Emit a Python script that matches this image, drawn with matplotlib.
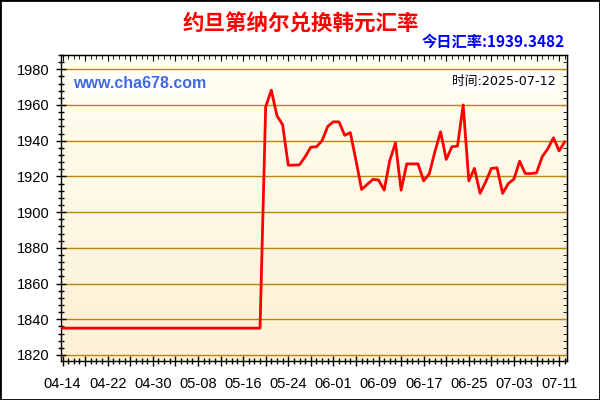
import matplotlib
matplotlib.use("Agg")
import matplotlib.pyplot as plt
import matplotlib.dates as mdates
from matplotlib.ticker import MultipleLocator, FuncFormatter
from matplotlib.patches import Rectangle
import numpy as np
import pandas as pd

# ---- data ----
title = "约旦第纳尔兑换韩元汇率"
today_label = "今日汇率:1939.3482"
time_label = "时间:2025-07-12"
watermark = "www.cha678.com"
start_date = "2025-04-14"
end_date = "2025-07-12"
rates = [
    1835, 1835, 1835, 1835, 1835, 1835, 1835, 1835, 1835, 1835,
    1835, 1835, 1835, 1835, 1835, 1835, 1835, 1835, 1835, 1835,
    1835, 1835, 1835, 1835, 1835, 1835, 1835, 1835, 1835, 1835,
    1835, 1835, 1835, 1835, 1835, 1835,
    1959, 1968.3, 1954, 1949, 1926.3, 1926.3, 1926.5, 1931, 1936.4, 1936.6,
    1940, 1948, 1950.6, 1950.5, 1943, 1944.5, 1929, 1912.7, 1915.5, 1918.3,
    1918, 1912.3, 1929, 1938.8, 1912.3, 1927, 1927, 1927, 1917.5, 1921.5,
    1934, 1945, 1929.5, 1936.6, 1937, 1960, 1917.5, 1924.5, 1910.5, 1917,
    1924.5, 1924.8, 1910.5, 1916, 1918.5, 1928.5, 1921.6, 1921.6, 1922, 1931,
    1935.5, 1941.6, 1934.3, 1939.35,
]
dates = pd.date_range(start_date, end_date, freq="D")
y_ticks = [1820, 1840, 1860, 1880, 1900, 1920, 1940, 1960, 1980]

# ---- figure ----
plt.rcParams['font.family'] = ['Liberation Sans', 'Noto Sans CJK SC', 'DejaVu Sans']
fig = plt.figure(figsize=(6, 4), dpi=100, facecolor='white')
L, R, T, B = 61, 567, 55, 361
ax = fig.add_axes([L / 600, 1 - B / 400, (R - L) / 600, (B - T) / 400])

d0 = mdates.date2num(dates[0])
xnum = mdates.date2num(dates)
ax.set_xlim(d0 - 0.27, d0 + 89.4)
ax.set_ylim(1816.6, 1988)

# gradient background
grad = np.linspace(0, 1, 256)[:, None]
top_c = np.array([255, 255, 243]) / 255
bot_c = np.array([253, 240, 213]) / 255
img = top_c[None, None, :] * (1 - grad[:, :, None]) + bot_c[None, None, :] * grad[:, :, None]
ax.imshow(img, extent=[0, 1, 0, 1], transform=ax.transAxes, aspect='auto', zorder=0)

ax.set_yticks(y_ticks)
ax.yaxis.set_minor_locator(MultipleLocator(4))
major_days = [d for d in xnum if int(round(d - d0)) % 4 == 0]
ax.set_xticks(major_days)
ax.xaxis.set_minor_locator(MultipleLocator(1))
ax.xaxis.set_major_formatter(FuncFormatter(
    lambda v, p: mdates.num2date(v).strftime('%m-%d') if int(round(v - d0)) % 8 == 0 else ''))

ax.grid(axis='y', color='#B8860B', lw=1, zorder=1)
ax.set_axisbelow(False)

ax.plot(xnum, rates, color='#FF0000', lw=2, zorder=3)

ax.tick_params(which='major', direction='inout', length=7, width=1, labelsize=10.5, colors='black')
ax.tick_params(axis='x', which='major', pad=8)
ax.tick_params(axis='y', which='major', pad=5)
ax.tick_params(which='minor', direction='inout', length=4.5, width=1)
for s in ax.spines.values():
    s.set_color('black')
    s.set_linewidth(1)

secx = ax.secondary_xaxis('top')
secx.set_xticks(major_days)
secx.xaxis.set_minor_locator(MultipleLocator(1))
secx.tick_params(which='major', direction='in', length=4)
secx.tick_params(which='minor', direction='in', length=3)
secx.set_xticklabels([])
secy = ax.secondary_yaxis('right')
secy.set_yticks(y_ticks)
secy.yaxis.set_minor_locator(MultipleLocator(4))
secy.tick_params(which='major', direction='in', length=4)
secy.tick_params(which='minor', direction='in', length=3)
secy.set_yticklabels([])

cjk = ['Noto Sans CJK SC', 'DejaVu Sans']
fig.text(301 / 600, 1 - 24 / 400, title, ha='center', va='center', color='#FF0000',
         fontsize=15.5, fontweight='bold', family=cjk)
fig.text(565 / 600, 1 - 42 / 400, today_label, ha='right', va='center', color='#0000FF',
         fontsize=11, fontweight='bold', family=cjk)
fig.text(73 / 600, 1 - 84 / 400, watermark, ha='left', va='center', color='#4169E1',
         fontsize=11.5, fontweight='bold', family=['Liberation Sans'],
         bbox=dict(facecolor='white', edgecolor='none', pad=1.5), zorder=5)
fig.text(556 / 600, 1 - 81.5 / 400, time_label, ha='right', va='center', color='black',
         fontsize=9.2, family=['DejaVu Sans', 'Noto Sans CJK SC'],
         bbox=dict(facecolor='white', edgecolor='none', pad=1.5), zorder=5)

fig.patches.append(Rectangle((0, 0), 1, 1, transform=fig.transFigure, fill=False,
                             lw=2, ec='black'))

fig.savefig('out.png', dpi=100)
